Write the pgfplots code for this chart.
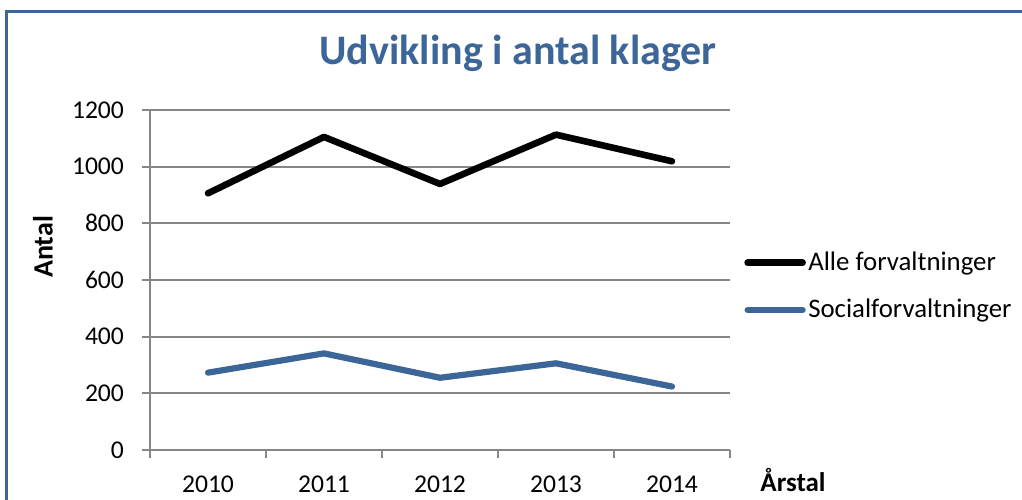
\documentclass[border=0pt]{standalone}
\usepackage{pgfplots}
\pgfplotsset{compat=1.18}
\usepackage{fontspec}
\setmainfont{Carlito}
\definecolor{xlblue}{RGB}{60,101,152}
\definecolor{gridgray}{RGB}{134,134,134}
\begin{document}
\begin{tikzpicture}
\useasboundingbox (0pt,0pt) rectangle (511pt,249.5pt);
\begin{scope}
\clip (0pt,0pt) rectangle (511pt,249.5pt);
\draw[xlblue, line width=1.5pt] (3.25pt,243.75pt) rectangle (540pt,-30pt);
\end{scope}
\node[font=\fontsize{21}{24}\selectfont\bfseries, text=xlblue, anchor=base, inner sep=0pt] at (259pt,217pt) {Udvikling i antal klager};
\node[font=\fontsize{14}{16}\selectfont\bfseries, rotate=90] at (21.5pt,126pt) {Antal};
\node[font=\fontsize{13.5}{15}\selectfont\bfseries, anchor=base west, inner sep=0pt] at (380pt,4pt) {Årstal};
\begin{axis}[
  at={(75pt,24.5pt)}, anchor=south west,
  scale only axis, width=290pt, height=170pt,
  xmin=-0.5, xmax=4.5, ymin=0, ymax=1200,
  xtick={0,1,2,3,4},
  xticklabels={2010,2011,2012,2013,2014},
  minor xtick={-0.5,0.5,1.5,2.5,3.5,4.5},
  ytick={0,200,400,600,800,1000,1200},
  ymajorgrids,
  grid style={gridgray, line width=1pt},
  axis x line*=bottom, axis y line*=left,
  axis line style={gridgray, line width=1pt, -},
  tick align=outside,
  major tick length=4pt, minor tick length=4pt,
  tick style={gridgray, line width=1pt},
  major x tick style={draw=none},
  ticklabel style={font=\fontsize{12.8}{15}\selectfont},
  yticklabel style={xshift=-5.5pt},
  xticklabel style={yshift=-5.5pt},
  /pgf/number format/assume math mode=true,
  /pgf/number format/1000 sep={},
  legend style={at={(1.024,0.481)}, anchor=west, draw=none, fill=none,
    font=\fontsize{13.4}{15}\selectfont, row sep=10.5pt, inner sep=0pt,
    nodes={inner sep=1.2pt}},
  legend cell align=left,
  legend image code/.code={\draw[#1] (0pt,0pt) -- (27.5pt,0pt);},
]
\addplot[black, line width=3.3pt, line cap=round, line join=round] coordinates {
  (0,906) (1,1105) (2,939) (3,1113) (4,1019)
};
\addlegendentry{Alle forvaltninger}
\addplot[xlblue, line width=3.1pt, line cap=round, line join=round] coordinates {
  (0,273) (1,341) (2,255) (3,306) (4,224)
};
\addlegendentry{Socialforvaltninger}
\end{axis}
\end{tikzpicture}
\end{document}
